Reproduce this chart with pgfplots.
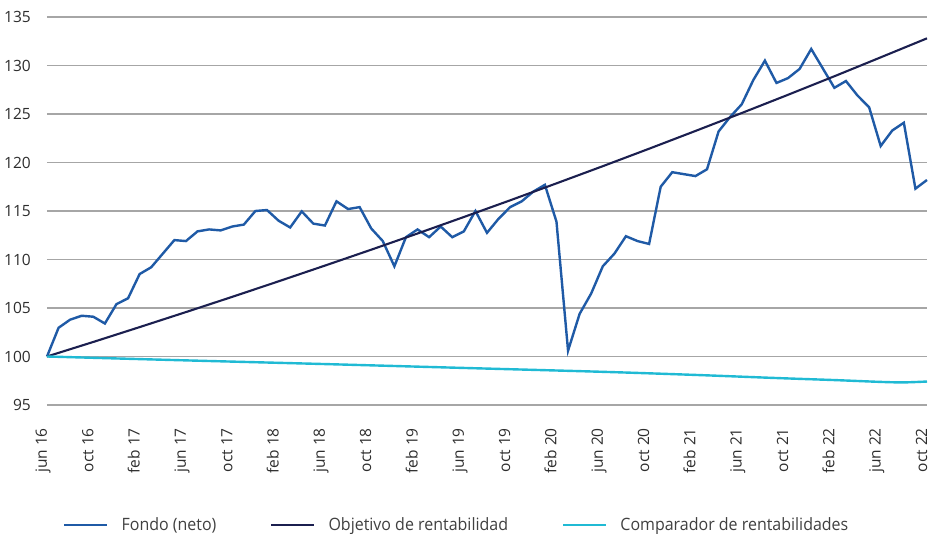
\documentclass[border=0pt]{standalone}
\usepackage{fontspec}
\setmainfont{Open Sans}
\newfontfamily\legfont[FakeStretch=0.94]{Open Sans}
\usepackage{pgfplots}
\pgfplotsset{compat=1.18}
\definecolor{fondo}{RGB}{31,90,166}
\definecolor{objetivo}{RGB}{27,31,79}
\definecolor{comparador}{RGB}{32,186,212}
\definecolor{gridc}{RGB}{166,166,166}
\definecolor{txt}{RGB}{45,45,45}
\definecolor{legtxt}{RGB}{64,64,64}
\begin{document}
\begin{tikzpicture}
\useasboundingbox (0,0) rectangle (933bp,534bp);
\begin{axis}[
  at={(47bp,129bp)}, anchor=south west,
  scale only axis, width=880bp, height=388bp,
  xmin=0, xmax=76, ymin=95, ymax=135,
  axis line style={draw=none},
  major tick length=0pt,
  ymajorgrids, grid style={gridc, line width=1.1bp},
  ytick={95,100,...,135},
  xtick={0,4,...,76},
  xticklabels={jun 16,oct 16,feb 17,jun 17,oct 17,feb 18,jun 18,oct 18,feb 19,jun 19,oct 19,feb 20,jun 20,oct 20,feb 21,jun 21,oct 21,feb 22,jun 22,oct 22},
  x tick label style={yshift=-5bp, rotate=90, anchor=base east},
  xticklabel shift=18bp, yticklabel shift=16bp,
  tick label style={font=\fontsize{15.5bp}{17bp}\selectfont, text=txt, inner sep=0pt},
  /pgf/number format/assume math mode=true,
  clip=false,
  legend columns=3,
  legend style={at={(0.0148,-0.309)}, anchor=west, draw=none, fill=none,
    font=\legfont\fontsize{17bp}{19bp}\selectfont, text=legtxt,
    /tikz/every odd column/.append style={column sep=11bp},
    /tikz/every even column/.append style={column sep=52bp}},
  legend image code/.code={\draw[#1] (0bp,0bp) -- (43bp,0bp);},
]
\addplot[fondo, line width=2.4bp, line join=miter] coordinates {
(0,100.0) (1,102.96) (2,103.8) (3,104.2) (4,104.1) (5,103.4) (6,105.4) (7,106.0)
(8,108.5) (9,109.2) (10,110.6) (11,112.0) (12,111.9) (13,112.9) (14,113.1) (15,113.0)
(16,113.4) (17,113.6) (18,115.0) (19,115.1) (20,114.0) (21,113.3) (22,114.96) (23,113.7)
(24,113.5) (25,116.0) (26,115.2) (27,115.4) (28,113.2) (29,111.9) (30,109.3) (31,112.3)
(32,113.1) (33,112.3) (34,113.4) (35,112.3) (36,112.9) (37,115.0) (38,112.75) (39,114.2)
(40,115.4) (41,116.0) (42,117.0) (43,117.7) (44,113.9) (45,100.6) (46,104.4) (47,106.5)
(48,109.3) (49,110.6) (50,112.4) (51,111.9) (52,111.6) (53,117.5) (54,119.0) (55,118.8)
(56,118.6) (57,119.3) (58,123.2) (59,124.7) (60,126.0) (61,128.5) (62,130.5) (63,128.2)
(64,128.7) (65,129.65) (66,131.7) (67,129.7) (68,127.7) (69,128.4) (70,126.9) (71,125.7)
(72,121.7) (73,123.3) (74,124.1) (75,117.3) (76,118.2)
};
\addlegendentry{Fondo (neto)}
\addplot[objetivo, line width=2.1bp] coordinates {
(0,100.00) (4,101.50) (8,103.03) (12,104.58) (16,106.15) (20,107.75) (24,109.37)
(28,111.01) (32,112.68) (36,114.38) (40,116.10) (44,117.85) (48,119.62) (52,121.42)
(56,123.25) (60,125.10) (64,126.98) (68,128.89) (72,130.84) (74,131.82) (76,132.80)
};
\addlegendentry{Objetivo de rentabilidad}
\addplot[comparador, line width=2.4bp, smooth] coordinates {
(0,100.0) (12,99.6) (24,99.22) (36,98.82) (48,98.42) (56,98.1) (63,97.78) (68,97.57)
(72,97.38) (74,97.33) (76,97.42)
};
\addlegendentry{Comparador de rentabilidades}
\end{axis}
\end{tikzpicture}
\end{document}
